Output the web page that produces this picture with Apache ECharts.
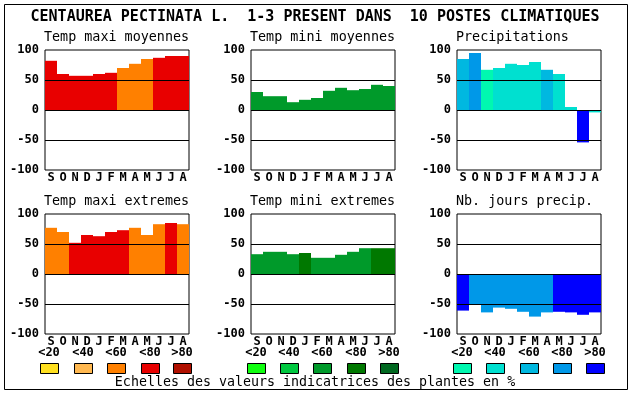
<!DOCTYPE html>
<html><head><meta charset="utf-8">
<script src="https://cdn.jsdelivr.net/npm/echarts@6/dist/echarts.min.js"></script>
<style>html,body{margin:0;padding:0;background:#fff}#c{width:630px;height:394px}</style>
</head><body><div id="c"></div>
<script>
// ---- data ----
const months = ['S','O','N','D','J','F','M','A','M','J','J','A'];
const mainTitle = 'CENTAUREA PECTINATA L.  1-3 PRESENT DANS  10 POSTES CLIMATIQUES';
const panelTitles = ['Temp maxi moyennes','Temp mini moyennes','Precipitations','Temp maxi extremes','Temp mini extremes','Nb. jours precip.'];
const yTicks = [-100,-50,0,50,100];
const tmaxMoy    = [82,60,57,57,60,62,70,77,85,87,90,90];
const tmaxMoyCls = [3,3,3,3,3,3,2,2,2,3,3,3];
const tminMoy    = [30,23,23,13,17,20,32,37,33,35,42,40];
const tminMoyCls = [2,2,2,2,2,2,2,2,2,2,2,2];
const precip     = [85,95,67,70,77,75,80,67,60,5,-54,-4];
const precipCls  = [2,3,0,1,1,1,1,2,1,1,4,1];
const tmaxExt    = [77,70,52,65,63,70,73,77,65,83,85,83];
const tmaxExtCls = [2,2,3,3,3,3,3,2,2,2,3,2];
const tminExt    = [33,37,37,33,35,27,27,32,37,43,43,43];
const tminExtCls = [2,2,2,2,3,2,2,2,2,2,3,3];
const nbJours    = [-61,-51,-64,-56,-58,-63,-71,-64,-63,-64,-68,-64];
const nbJoursCls = [4,3,3,3,3,3,3,3,4,4,4,4];
const scaleLabels = ['<20','<40','<60','<80','>80'];
const footer = 'Echelles des valeurs indicatrices des plantes en %';

// ---- palettes ----
const palTemp = ['#ffe020','#ffb850','#ff8000','#e80000','#b01000'];
const palGreen = ['#10ff10','#00c840','#009a2a','#007800','#006820'];
const palBlue = ['#00f8b0','#00e0d0','#00b8e0','#0098e8','#0000ff'];

const panels = [
  {vals:tmaxMoy, cls:tmaxMoyCls, pal:palTemp},
  {vals:tminMoy, cls:tminMoyCls, pal:palGreen},
  {vals:precip, cls:precipCls, pal:palBlue},
  {vals:tmaxExt, cls:tmaxExtCls, pal:palTemp},
  {vals:tminExt, cls:tminExtCls, pal:palGreen},
  {vals:nbJours, cls:nbJoursCls, pal:palBlue}
];
const FONT = 'DejaVu Sans Mono';
const colLeft = [45,251,457];
const rowTop = [50,214];
const grids=[], xAxes=[], yAxes=[], series=[], titles=[];
titles.push({text:mainTitle,left:'center',top:10,padding:0,
  textStyle:{fontFamily:FONT,fontSize:15,fontWeight:'bold',color:'#000'}});
panels.forEach((p,i)=>{
  const r=Math.floor(i/3), c=i%3;
  grids.push({left:colLeft[c],top:rowTop[r],width:144,height:120,show:true,
    borderColor:'#000',borderWidth:1,backgroundColor:'transparent'});
  titles.push({text:panelTitles[i],left:colLeft[c]-1,top:rowTop[r]-19,padding:0,
    textStyle:{fontFamily:FONT,fontSize:13.4,fontWeight:'normal',color:'#000'}});
  xAxes.push({type:'category',gridIndex:i,data:months,
    axisLine:{show:false},axisTick:{show:false},
    axisLabel:{interval:0,margin:2,fontFamily:FONT,fontSize:12,fontWeight:'bold',color:'#000'}});
  yAxes.push({type:'value',gridIndex:i,min:-100,max:100,interval:50,
    axisLine:{show:false},axisTick:{show:false},splitLine:{show:false},
    axisLabel:{margin:6,fontFamily:FONT,fontSize:12,fontWeight:'bold',color:'#000'}});
  series.push({type:'bar',xAxisIndex:i,yAxisIndex:i,barCategoryGap:0,barGap:0,
    data:p.vals.map((v,k)=>({value:v,itemStyle:{color:p.pal[p.cls[k]]}})),
    animation:false,silent:true,
    markLine:{silent:true,symbol:'none',label:{show:false},animation:false,
      lineStyle:{color:'#000',width:1,type:'solid'},
      data:yTicks.filter(t=>t>-100&&t<100).map(t=>({yAxis:t}))}});
});
// legend graphics
const graphic=[{type:'rect',shape:{x:4.5,y:4.5,width:623,height:385},
  style:{fill:'none',stroke:'#000',lineWidth:1},silent:true}];
const legX=[[40,74,107,141,173],[247,280,313,347,380],[453,486,520,553,586]];
[palTemp,palGreen,palBlue].forEach((pal,g)=>{
  pal.forEach((col,k)=>{
    const x=legX[g][k];
    graphic.push({type:'rect',shape:{x:x+0.5,y:363.5,width:18,height:10},
      style:{fill:col,stroke:'#000',lineWidth:1},silent:true});
    graphic.push({type:'text',x:x+9,y:353,style:{text:scaleLabels[k],
      font:'bold 12px "'+FONT+'"',fill:'#000',textAlign:'center',textVerticalAlign:'middle'},silent:true});
  });
});
graphic.push({type:'text',x:315,y:383,style:{text:footer,font:'13.3px "'+FONT+'"',
  fill:'#000',textAlign:'center',textVerticalAlign:'middle'},silent:true});

const chart=echarts.init(document.getElementById('c'),null,{renderer:'canvas'});
chart.setOption({animation:false,backgroundColor:'#fff',title:titles,grid:grids,
  xAxis:xAxes,yAxis:yAxes,series:series,graphic:graphic});
</script></body></html>
